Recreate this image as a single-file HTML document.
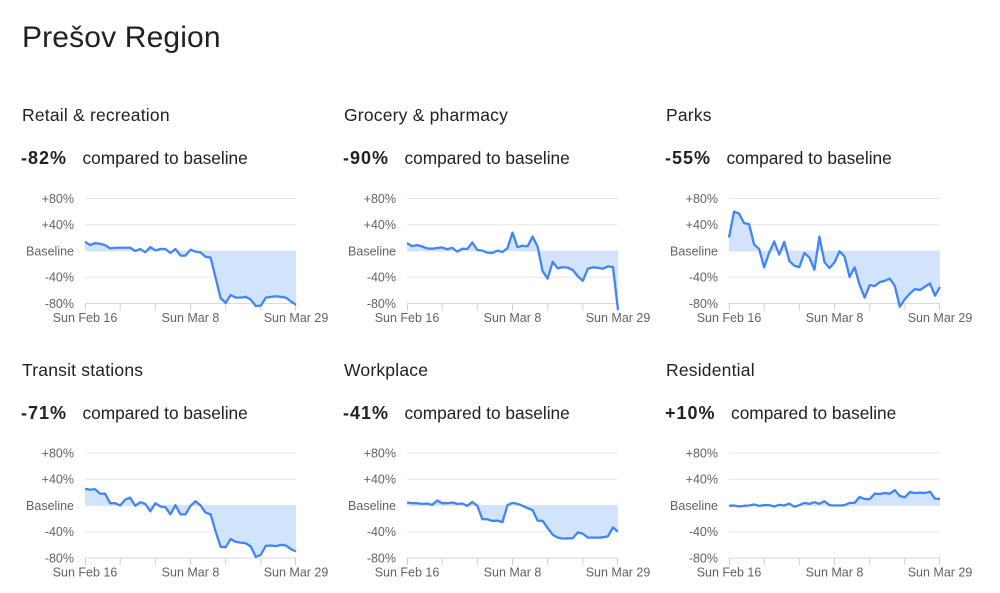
<!DOCTYPE html>
<html><head><meta charset="utf-8"><style>
html,body{margin:0;padding:0;background:#fff;}
body{width:1000px;height:593px;position:relative;overflow:hidden;font-family:"Liberation Sans",Arial,sans-serif;color:#202124;}
.t{position:absolute;font-size:30px;line-height:30px;top:23px;left:22px;white-space:nowrap;letter-spacing:0.15px;}
.h{position:absolute;font-size:17.5px;line-height:17.5px;white-space:nowrap;letter-spacing:0.2px;}
.v{position:absolute;font-size:17.3px;line-height:19px;white-space:nowrap;display:flex;align-items:baseline;}
.v b{font-weight:bold;font-size:18px;letter-spacing:1px;margin-right:15.5px;}
svg{position:absolute;left:0;top:0;}
svg text{font-family:"Liberation Sans",Arial,sans-serif;font-size:12.5px;fill:#5f6368;}
</style></head><body>
<div class="t">Prešov Region</div>

<div class="h" style="left:22px;top:107px">Retail &amp; recreation</div>
<div class="h" style="left:344px;top:107px">Grocery &amp; pharmacy</div>
<div class="h" style="left:666px;top:107px">Parks</div>
<div class="h" style="left:22px;top:362px">Transit stations</div>
<div class="h" style="left:344px;top:362px">Workplace</div>
<div class="h" style="left:666px;top:362px">Residential</div>

<div class="v" style="left:21px;top:149px"><b>-82%</b><span>compared to baseline</span></div>
<div class="v" style="left:343px;top:149px"><b>-90%</b><span>compared to baseline</span></div>
<div class="v" style="left:665px;top:149px"><b>-55%</b><span>compared to baseline</span></div>
<div class="v" style="left:21px;top:404px"><b>-71%</b><span>compared to baseline</span></div>
<div class="v" style="left:343px;top:404px"><b>-41%</b><span>compared to baseline</span></div>
<div class="v" style="left:665px;top:404px"><b>+10%</b><span>compared to baseline</span></div>

<svg width="1000" height="593" viewBox="0 0 1000 593" xmlns="http://www.w3.org/2000/svg">
<defs>
<g id="axes">
  <g stroke="#e6e6e6" stroke-width="1">
    <line x1="0" x2="211" y1="-52.5" y2="-52.5"/>
    <line x1="0" x2="211" y1="-26.25" y2="-26.25"/>
    <line x1="0" x2="211" y1="0" y2="0"/>
    <line x1="0" x2="211" y1="26.25" y2="26.25"/>
  </g>
  <line x1="0" x2="211" y1="52.5" y2="52.5" stroke="#dadada" stroke-width="1"/>
  <g stroke="#cfcfcf" stroke-width="1">
    <line x1="0.5" x2="0.5" y1="52.5" y2="59.5"/>
    <line x1="35.2" x2="35.2" y1="52.5" y2="59.5"/>
    <line x1="70.3" x2="70.3" y1="52.5" y2="59.5"/>
    <line x1="105.5" x2="105.5" y1="52.5" y2="59.5"/>
    <line x1="140.7" x2="140.7" y1="52.5" y2="59.5"/>
    <line x1="175.8" x2="175.8" y1="52.5" y2="59.5"/>
    <line x1="210.5" x2="210.5" y1="52.5" y2="59.5"/>
  </g>
</g>
</defs>

<!-- Chart 1 -->
<g transform="translate(85,251)">
  <use href="#axes"/>
  <text x="-11" y="-48" text-anchor="end">+80%</text>
  <text x="-11" y="-21.8" text-anchor="end">+40%</text>
  <text x="-11" y="4.4" text-anchor="end">Baseline</text>
  <text x="-11" y="30.6" text-anchor="end">-40%</text>
  <text x="-11" y="56.9" text-anchor="end">-80%</text>
  <text x="0" y="71" text-anchor="middle">Sun Feb 16</text>
  <text x="105.5" y="71" text-anchor="middle">Sun Mar 8</text>
  <text x="211" y="71" text-anchor="middle">Sun Mar 29</text>
  <g transform="scale(5.0238,-0.65625)">
    <polygon fill="#d2e3fc" points="0,0 0,14 1,9 2,12 3,11 4,9 5,4 6,5 7,5 8,5 9,5 10,0 11,3 12,-2 13,6 14,1 15,3 16,3 17,-3 18,3 19,-7 20,-7 21,2 22,-1 23,-2 24,-9 25,-10 26,-41 27,-72 28,-79 29,-67 30,-71 31,-71 32,-70 33,-74 34,-84 35,-83 36,-71 37,-70 38,-69 39,-70 40,-71 41,-77 42,-82 42,0"/>
    <polyline fill="none" stroke="#4285f4" stroke-width="2.3" stroke-linejoin="round" vector-effect="non-scaling-stroke" points="0,14 1,9 2,12 3,11 4,9 5,4 6,5 7,5 8,5 9,5 10,0 11,3 12,-2 13,6 14,1 15,3 16,3 17,-3 18,3 19,-7 20,-7 21,2 22,-1 23,-2 24,-9 25,-10 26,-41 27,-72 28,-79 29,-67 30,-71 31,-71 32,-70 33,-74 34,-84 35,-83 36,-71 37,-70 38,-69 39,-70 40,-71 41,-77 42,-82"/>
  </g>
</g>

<!-- Chart 2 -->
<g transform="translate(407,251)">
  <use href="#axes"/>
  <text x="-11" y="-48" text-anchor="end">+80%</text>
  <text x="-11" y="-21.8" text-anchor="end">+40%</text>
  <text x="-11" y="4.4" text-anchor="end">Baseline</text>
  <text x="-11" y="30.6" text-anchor="end">-40%</text>
  <text x="-11" y="56.9" text-anchor="end">-80%</text>
  <text x="0" y="71" text-anchor="middle">Sun Feb 16</text>
  <text x="105.5" y="71" text-anchor="middle">Sun Mar 8</text>
  <text x="211" y="71" text-anchor="middle">Sun Mar 29</text>
  <g transform="scale(5.0238,-0.65625)">
    <polygon fill="#d2e3fc" points="0,0 0,12 1,7.5 2,9 3,7 4,4 5,3.5 6,4.5 7,5.5 8,2.5 9,5 10,-1 11,3.5 12,3 13,13 14,1.5 15,0.5 16,-2.5 17,-3 18,0.5 19,-1.5 20,4.5 21,28 22,6 23,8 24,7 25,22 26,6.5 27,-31 28,-42 29,-16.5 30,-26.5 31,-24.5 32,-25.5 33,-29 34,-38.5 35,-45.5 36,-27 37,-25 38,-25.5 39,-27 40,-23.5 41,-24.5 42,-90 42,0"/>
    <polyline fill="none" stroke="#4285f4" stroke-width="2.3" stroke-linejoin="round" vector-effect="non-scaling-stroke" points="0,12 1,7.5 2,9 3,7 4,4 5,3.5 6,4.5 7,5.5 8,2.5 9,5 10,-1 11,3.5 12,3 13,13 14,1.5 15,0.5 16,-2.5 17,-3 18,0.5 19,-1.5 20,4.5 21,28 22,6 23,8 24,7 25,22 26,6.5 27,-31 28,-42 29,-16.5 30,-26.5 31,-24.5 32,-25.5 33,-29 34,-38.5 35,-45.5 36,-27 37,-25 38,-25.5 39,-27 40,-23.5 41,-24.5 42,-90"/>
  </g>
</g>

<!-- Chart 3 -->
<g transform="translate(729,251)">
  <use href="#axes"/>
  <text x="-11" y="-48" text-anchor="end">+80%</text>
  <text x="-11" y="-21.8" text-anchor="end">+40%</text>
  <text x="-11" y="4.4" text-anchor="end">Baseline</text>
  <text x="-11" y="30.6" text-anchor="end">-40%</text>
  <text x="-11" y="56.9" text-anchor="end">-80%</text>
  <text x="0" y="71" text-anchor="middle">Sun Feb 16</text>
  <text x="105.5" y="71" text-anchor="middle">Sun Mar 8</text>
  <text x="211" y="71" text-anchor="middle">Sun Mar 29</text>
  <g transform="scale(5.0238,-0.65625)">
    <polygon fill="#d2e3fc" points="0,0 0,20.5 1,60 2,57 3,42.5 4,41 5,10 6,3 7,-25 8,-2.5 9,14.5 10,-5.5 11,14 12,-15 13,-22.5 14,-24.5 15,-3 16,-10 17,-28.5 18,22 19,-17 20,-26 21,-17.5 22,-0.5 23,-8.5 24,-39.5 25,-25 26,-51.5 27,-71 28,-52 29,-53.5 30,-47.5 31,-45.5 32,-42 33,-53 34,-85 35,-73.5 36,-65 37,-58 38,-59.5 39,-54.5 40,-49.5 41,-68 42,-55 42,0"/>
    <polyline fill="none" stroke="#4285f4" stroke-width="2.3" stroke-linejoin="round" vector-effect="non-scaling-stroke" points="0,20.5 1,60 2,57 3,42.5 4,41 5,10 6,3 7,-25 8,-2.5 9,14.5 10,-5.5 11,14 12,-15 13,-22.5 14,-24.5 15,-3 16,-10 17,-28.5 18,22 19,-17 20,-26 21,-17.5 22,-0.5 23,-8.5 24,-39.5 25,-25 26,-51.5 27,-71 28,-52 29,-53.5 30,-47.5 31,-45.5 32,-42 33,-53 34,-85 35,-73.5 36,-65 37,-58 38,-59.5 39,-54.5 40,-49.5 41,-68 42,-55"/>
  </g>
</g>

<!-- Chart 4 -->
<g transform="translate(85,505.5)">
  <use href="#axes"/>
  <text x="-11" y="-48" text-anchor="end">+80%</text>
  <text x="-11" y="-21.8" text-anchor="end">+40%</text>
  <text x="-11" y="4.4" text-anchor="end">Baseline</text>
  <text x="-11" y="30.6" text-anchor="end">-40%</text>
  <text x="-11" y="56.9" text-anchor="end">-80%</text>
  <text x="0" y="71" text-anchor="middle">Sun Feb 16</text>
  <text x="105.5" y="71" text-anchor="middle">Sun Mar 8</text>
  <text x="211" y="71" text-anchor="middle">Sun Mar 29</text>
  <g transform="scale(5.0238,-0.65625)">
    <polygon fill="#d2e3fc" points="0,0 0,25.5 1,24 2,25 3,18 4,18 5,3.5 6,3.5 7,0 8,9 9,12 10,-0.5 11,5 12,2.5 13,-9 14,3.5 15,-1.5 16,-2.5 17,-13.5 18,0.5 19,-13.5 20,-13.5 21,-0.5 22,6.5 23,0 24,-11 25,-13.5 26,-39.5 27,-63 28,-63.5 29,-51 30,-55.5 31,-56.5 32,-57.5 33,-62.5 34,-78.5 35,-75 36,-61.5 37,-61 38,-62 39,-60 40,-61 41,-66.5 42,-70 42,0"/>
    <polyline fill="none" stroke="#4285f4" stroke-width="2.3" stroke-linejoin="round" vector-effect="non-scaling-stroke" points="0,25.5 1,24 2,25 3,18 4,18 5,3.5 6,3.5 7,0 8,9 9,12 10,-0.5 11,5 12,2.5 13,-9 14,3.5 15,-1.5 16,-2.5 17,-13.5 18,0.5 19,-13.5 20,-13.5 21,-0.5 22,6.5 23,0 24,-11 25,-13.5 26,-39.5 27,-63 28,-63.5 29,-51 30,-55.5 31,-56.5 32,-57.5 33,-62.5 34,-78.5 35,-75 36,-61.5 37,-61 38,-62 39,-60 40,-61 41,-66.5 42,-70"/>
  </g>
</g>

<!-- Chart 5 -->
<g transform="translate(407,505.5)">
  <use href="#axes"/>
  <text x="-11" y="-48" text-anchor="end">+80%</text>
  <text x="-11" y="-21.8" text-anchor="end">+40%</text>
  <text x="-11" y="4.4" text-anchor="end">Baseline</text>
  <text x="-11" y="30.6" text-anchor="end">-40%</text>
  <text x="-11" y="56.9" text-anchor="end">-80%</text>
  <text x="0" y="71" text-anchor="middle">Sun Feb 16</text>
  <text x="105.5" y="71" text-anchor="middle">Sun Mar 8</text>
  <text x="211" y="71" text-anchor="middle">Sun Mar 29</text>
  <g transform="scale(5.0238,-0.65625)">
    <polygon fill="#d2e3fc" points="0,0 0,4.5 1,3.5 2,3.5 3,2.5 4,3 5,1 6,7.5 7,3.5 8,3.5 9,4.5 10,2.5 11,3 12,-0.5 13,5.5 14,-0.5 15,-21 16,-21 17,-23.5 18,-23 19,-25.5 20,0.5 21,4 22,2.5 23,-0.5 24,-4 25,-7 26,-23 27,-23.5 28,-34.5 29,-44.5 30,-49 31,-50.5 32,-50 33,-50 34,-41 35,-43 36,-49 37,-49 38,-49 39,-48.5 40,-47 41,-33.5 42,-40 42,0"/>
    <polyline fill="none" stroke="#4285f4" stroke-width="2.3" stroke-linejoin="round" vector-effect="non-scaling-stroke" points="0,4.5 1,3.5 2,3.5 3,2.5 4,3 5,1 6,7.5 7,3.5 8,3.5 9,4.5 10,2.5 11,3 12,-0.5 13,5.5 14,-0.5 15,-21 16,-21 17,-23.5 18,-23 19,-25.5 20,0.5 21,4 22,2.5 23,-0.5 24,-4 25,-7 26,-23 27,-23.5 28,-34.5 29,-44.5 30,-49 31,-50.5 32,-50 33,-50 34,-41 35,-43 36,-49 37,-49 38,-49 39,-48.5 40,-47 41,-33.5 42,-40"/>
  </g>
</g>

<!-- Chart 6 -->
<g transform="translate(729,505.5)">
  <use href="#axes"/>
  <text x="-11" y="-48" text-anchor="end">+80%</text>
  <text x="-11" y="-21.8" text-anchor="end">+40%</text>
  <text x="-11" y="4.4" text-anchor="end">Baseline</text>
  <text x="-11" y="30.6" text-anchor="end">-40%</text>
  <text x="-11" y="56.9" text-anchor="end">-80%</text>
  <text x="0" y="71" text-anchor="middle">Sun Feb 16</text>
  <text x="105.5" y="71" text-anchor="middle">Sun Mar 8</text>
  <text x="211" y="71" text-anchor="middle">Sun Mar 29</text>
  <g transform="scale(5.0238,-0.65625)">
    <polygon fill="#d2e3fc" points="0,0 0,-0.5 1,0 2,-1.5 3,-0.5 4,0 5,1.5 6,-0.5 7,0.5 8,0.5 9,-1.5 10,1 11,0 12,3 13,-2 14,0.5 15,4 16,2.5 17,5 18,2.5 19,6.5 20,0.5 21,0 22,0 23,0.5 24,4 25,4 26,13 27,10 28,9.5 29,18 30,17.5 31,19 32,18 33,23.5 34,14.5 35,12.5 36,20.5 37,19 38,19.5 39,19 40,21 41,10.5 42,10 42,0"/>
    <polyline fill="none" stroke="#4285f4" stroke-width="2.3" stroke-linejoin="round" vector-effect="non-scaling-stroke" points="0,-0.5 1,0 2,-1.5 3,-0.5 4,0 5,1.5 6,-0.5 7,0.5 8,0.5 9,-1.5 10,1 11,0 12,3 13,-2 14,0.5 15,4 16,2.5 17,5 18,2.5 19,6.5 20,0.5 21,0 22,0 23,0.5 24,4 25,4 26,13 27,10 28,9.5 29,18 30,17.5 31,19 32,18 33,23.5 34,14.5 35,12.5 36,20.5 37,19 38,19.5 39,19 40,21 41,10.5 42,10"/>
  </g>
</g>
</svg>
</body></html>
